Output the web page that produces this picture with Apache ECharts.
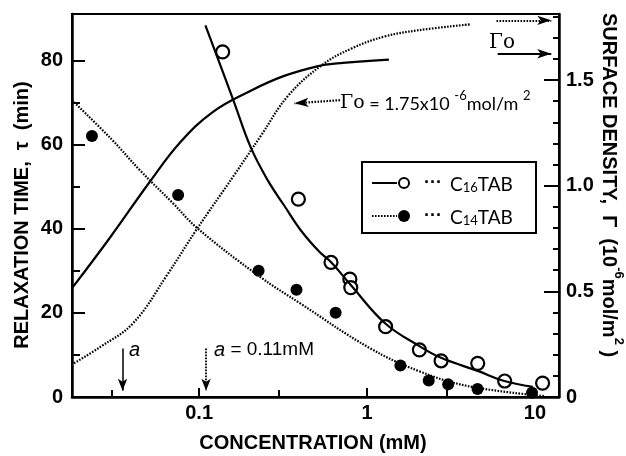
<!DOCTYPE html>
<html>
<head>
<meta charset="utf-8">
<style>
  html, body { margin: 0; padding: 0; background: #fff; }
  #chart-container { width: 626px; height: 456px; }
</style>
<script src="https://cdn.jsdelivr.net/npm/echarts/dist/echarts.min.js"></script>
</head>
<body>
<div id="chart-container"></div>
<script>
// measured relaxation times (open / filled circles)
var c16Conc = [0.138, 0.39, 0.61, 0.79, 0.80, 1.29, 2.05, 2.76, 4.56, 6.6, 11.1];
var c16Tau = [82, 47, 32, 28, 26, 16.7, 11.2, 8.6, 8, 3.8, 3.3];
var c14Conc = [0.023, 0.075, 0.226, 0.38, 0.65, 1.58, 2.33, 3.04, 4.55, 9.6];
var c14Tau = [62, 48, 30, 25.5, 20, 7.5, 3.9, 3.0, 1.9, 1.0];

// fitted relaxation time curves
var c16FitConc = [0.109, 0.16, 0.203, 0.257, 0.321, 0.405, 0.52, 0.615, 0.8, 1.29, 2.05, 2.76, 4.56, 6.57, 9.7];
var c16FitTau = [88.3, 70.5, 59.3, 51.4, 45.5, 39.5, 34.5, 31.9, 26.6, 17.4, 12.1, 9.3, 6.2, 3.8, 2.4];
var c14FitConc = [0.0175, 0.03, 0.0446, 0.07, 0.097, 0.226, 0.405, 1.03, 2.02, 4.0, 11.5];
var c14FitTau = [70.5, 61.3, 53.8, 46.0, 40.2, 28.8, 22.1, 11.7, 6.2, 2.6, 0.2];

// surface density curves (right axis)
var c16GammaConc = [0.0177, 0.0295, 0.051, 0.077, 0.121, 0.203, 0.321, 0.521, 0.64, 1.35];
var c16Gamma = [0.52, 0.755, 1.02, 1.205, 1.35, 1.45, 1.52, 1.568, 1.578, 1.597];
var c14GammaConc = [0.018, 0.0258, 0.0405, 0.0645, 0.097, 0.16, 0.233, 0.339, 0.536, 0.81, 1.28, 2.02, 4.1];
var c14Gamma = [0.16, 0.237, 0.35, 0.578, 0.795, 1.045, 1.236, 1.426, 1.57, 1.65, 1.707, 1.736, 1.764];

// annotations
var aC16 = 0.035;
var aC14 = 0.11;
var gamma0C16 = 1.625;
var gamma0C14 = 1.783;

// tick positions
var concMinorTicks = [0.03, 0.3, 3];
var tauMinorTicks = [10, 30, 50, 70];
var gammaMinorTicks = [0.1, 0.2, 0.3, 0.4, 0.6, 0.7, 0.8, 0.9, 1.1, 1.2, 1.3, 1.4, 1.6, 1.7, 1.8];

var xMin = 0.0175, xMax = 13.9;
var tauMax = 91, gammaMax = 1.813;

function zip(xs, ys) {
  return xs.map(function (x, i) { return [x, ys[i]]; });
}

var dom = document.getElementById('chart-container');
var myChart = echarts.init(dom, null, { renderer: 'canvas' });

var font = "'Liberation Sans', Arial, sans-serif";
var tickFont = { color: '#000', fontFamily: font, fontWeight: 'bold', fontSize: 20 };
var dotted = [1.6, 1.4];

var option = {
  animation: false,
  grid: {
    left: 72, right: 67, top: 14, bottom: 59,
    show: true, borderColor: '#000', borderWidth: 2, backgroundColor: 'transparent'
  },
  xAxis: [
    {
      type: 'log', logBase: 10, min: xMin, max: xMax, position: 'bottom',
      axisLine: { onZero: false, lineStyle: { color: '#000', width: 2.5 } },
      axisTick: { inside: true, length: 9, lineStyle: { color: '#000', width: 2 } },
      axisLabel: Object.assign({
        margin: 6, showMinLabel: false, showMaxLabel: false,
        formatter: function (v) { return String(parseFloat(v.toPrecision(6))); }
      }, tickFont),
      splitLine: { show: false }
    },
    {
      type: 'log', logBase: 10, min: xMin, max: xMax, position: 'bottom',
      axisLine: { show: false, onZero: false },
      axisTick: { inside: true, length: 7, customValues: concMinorTicks, lineStyle: { color: '#000', width: 2 } },
      axisLabel: { show: false },
      splitLine: { show: false }
    }
  ],
  yAxis: [
    {
      type: 'value', position: 'left', min: 0, max: tauMax, interval: 20,
      axisLine: { show: true, onZero: false, lineStyle: { color: '#000', width: 2.5 } },
      axisTick: { show: true, inside: true, length: 13, lineStyle: { color: '#000', width: 2 } },
      axisLabel: Object.assign({ margin: 9, showMaxLabel: false }, tickFont),
      splitLine: { show: false }
    },
    {
      type: 'value', position: 'left', min: 0, max: tauMax,
      axisLine: { show: false, onZero: false },
      axisTick: { show: true, inside: true, length: 8, customValues: tauMinorTicks, lineStyle: { color: '#000', width: 2 } },
      axisLabel: { show: false },
      splitLine: { show: false }
    },
    {
      type: 'value', position: 'right', min: 0, max: gammaMax, interval: 0.5,
      axisLine: { show: true, onZero: false, lineStyle: { color: '#000', width: 2.5 } },
      axisTick: { show: true, inside: true, length: 15, lineStyle: { color: '#000', width: 2 } },
      axisLabel: Object.assign({
        margin: 7, showMaxLabel: false,
        formatter: function (v) { return v === 0 ? '0' : v.toFixed(1); }
      }, tickFont),
      splitLine: { show: false }
    },
    {
      type: 'value', position: 'right', min: 0, max: gammaMax,
      axisLine: { show: false, onZero: false },
      axisTick: { show: true, inside: true, length: 6, customValues: gammaMinorTicks, lineStyle: { color: '#000', width: 2 } },
      axisLabel: { show: false },
      splitLine: { show: false }
    }
  ],
  series: [
    {
      name: 'C16TAB fit', type: 'line', xAxisIndex: 0, yAxisIndex: 0,
      data: zip(c16FitConc, c16FitTau), smooth: 0.4, symbol: 'none',
      lineStyle: { color: '#000', width: 2.2 },
      markLine: {
        silent: true, symbol: ['none', 'arrow'], symbolSize: [7, 12],
        label: { show: false },
        lineStyle: { color: '#000', width: 1.5, type: 'solid' },
        data: [[{ coord: [aC16, 11.5] }, { coord: [aC16, 1.5] }]]
      }
    },
    {
      name: 'C14TAB fit', type: 'line', xAxisIndex: 0, yAxisIndex: 0,
      data: zip(c14FitConc, c14FitTau), smooth: 0.4, symbol: 'none',
      lineStyle: { color: '#000', width: 2.2, type: dotted },
      markLine: {
        silent: true, symbol: ['none', 'arrow'], symbolSize: [7, 12],
        label: { show: false },
        lineStyle: { color: '#000', width: 1.8, type: dotted },
        data: [[{ coord: [aC14, 11.5] }, { coord: [aC14, 1.5] }]]
      }
    },
    {
      name: 'C16TAB Γ', type: 'line', xAxisIndex: 0, yAxisIndex: 2,
      data: zip(c16GammaConc, c16Gamma), smooth: 0.4, symbol: 'none',
      lineStyle: { color: '#000', width: 2.2 },
      markLine: {
        silent: true, symbol: ['none', 'arrow'], symbolSize: [7, 14],
        label: { show: false },
        lineStyle: { color: '#000', width: 2.2, type: 'solid' },
        data: [[{ coord: [6.0, gamma0C16] }, { coord: [12.5, gamma0C16] }]]
      }
    },
    {
      name: 'C14TAB Γ', type: 'line', xAxisIndex: 0, yAxisIndex: 2,
      data: zip(c14GammaConc, c14Gamma), smooth: 0.4, symbol: 'none',
      lineStyle: { color: '#000', width: 2.2, type: dotted },
      markLine: {
        silent: true, symbol: ['none', 'arrow'], symbolSize: [7, 14],
        label: { show: false },
        lineStyle: { color: '#000', width: 2.2, type: dotted },
        data: [
          [{ coord: [5.9, gamma0C14] }, { coord: [12.5, gamma0C14] }],
          [{ coord: [0.69, 1.405] }, { coord: [0.37, 1.39] }]
        ]
      }
    },
    {
      name: 'C16TAB', type: 'scatter', xAxisIndex: 0, yAxisIndex: 0,
      data: zip(c16Conc, c16Tau), symbol: 'circle', symbolSize: 13,
      itemStyle: { color: '#fff', borderColor: '#000', borderWidth: 2.2, opacity: 1 }
    },
    {
      name: 'C14TAB', type: 'scatter', xAxisIndex: 0, yAxisIndex: 0,
      data: zip(c14Conc, c14Tau), symbol: 'circle', symbolSize: 12,
      itemStyle: { color: '#000', opacity: 1 }
    }
  ],
  graphic: [
    // axis titles
    {
      type: 'text', x: 22, y: 215, rotation: Math.PI / 2,
      style: {
        text: 'RELAXATION TIME,  τ  (min)', align: 'center', verticalAlign: 'middle',
        font: 'bold 20px ' + font, fill: '#000'
      }
    },
    {
      type: 'text', x: 313, y: 443,
      style: {
        text: 'CONCENTRATION (mM)', align: 'center', verticalAlign: 'middle',
        font: 'bold 20px ' + font, fill: '#000'
      }
    },
    {
      type: 'text', x: 612, y: 185, rotation: -Math.PI / 2,
      style: {
        text: '{t|SURFACE DENSITY,  Γ  (10}{s|-6}{t|mol/m}{s|2}{t| )}',
        align: 'center', verticalAlign: 'middle', fill: '#000',
        rich: {
          t: { fontFamily: font, fontWeight: 'bold', fontSize: 20, lineHeight: 26, verticalAlign: 'bottom' },
          s: { fontFamily: font, fontWeight: 'bold', fontSize: 13, lineHeight: 26, verticalAlign: 'top' }
        }
      }
    },
    // annotations
    {
      type: 'text', x: 489, y: 43,
      style: { text: 'Γo', align: 'left', verticalAlign: 'middle', font: '20px "DejaVu Serif", serif', fill: '#000' }
    },
    {
      type: 'text', x: 340, y: 101,
      style: {
        text: '{g|Γo}{t| = 1.75x10 }{s|-6}{t|mol/m }{s|2}',
        align: 'left', verticalAlign: 'middle', fill: '#000',
        rich: {
          g: { fontFamily: '"DejaVu Serif", serif', fontSize: 19, lineHeight: 24, verticalAlign: 'bottom' },
          t: { fontFamily: 'Lato, "Open Sans", sans-serif', fontSize: 18, lineHeight: 24, verticalAlign: 'bottom' },
          s: { fontFamily: 'Lato, "Open Sans", sans-serif', fontSize: 13, lineHeight: 24, verticalAlign: 'top' }
        }
      }
    },
    {
      type: 'text', x: 129, y: 350,
      style: { text: 'a', align: 'left', verticalAlign: 'middle', font: 'italic 20px ' + font, fill: '#000' }
    },
    {
      type: 'text', x: 214, y: 350,
      style: {
        text: '{i|a}{t| = 0.11mM}', align: 'left', verticalAlign: 'middle', fill: '#000',
        rich: {
          i: { fontFamily: font, fontStyle: 'italic', fontSize: 20 },
          t: { fontFamily: font, fontSize: 19 }
        }
      }
    },
    // legend box
    {
      type: 'group', x: 362, y: 162,
      children: [
        { type: 'rect', shape: { x: 0, y: 0, width: 174, height: 71 }, style: { fill: '#fff', stroke: '#000', lineWidth: 2 } },
        { type: 'line', shape: { x1: 10, y1: 21, x2: 35, y2: 21 }, style: { stroke: '#000', lineWidth: 2 } },
        { type: 'circle', shape: { cx: 42, cy: 21, r: 5 }, style: { fill: '#fff', stroke: '#000', lineWidth: 2 } },
        { type: 'text', x: 62, y: 21, style: { text: '···', align: 'left', verticalAlign: 'middle', font: 'bold 18px ' + font, fill: '#000' } },
        {
          type: 'text', x: 88, y: 21,
          style: {
            text: '{b|C}{s|16}{b|TAB}', align: 'left', verticalAlign: 'middle', fill: '#000',
            rich: {
              b: { fontFamily: 'Lato, sans-serif', fontSize: 19, lineHeight: 22, verticalAlign: 'bottom' },
              s: { fontFamily: 'Lato, sans-serif', fontSize: 13, lineHeight: 22, verticalAlign: 'bottom' }
            }
          }
        },
        { type: 'line', shape: { x1: 10, y1: 54, x2: 35, y2: 54 }, style: { stroke: '#000', lineWidth: 2, lineDash: dotted } },
        { type: 'circle', shape: { cx: 42, cy: 54, r: 6 }, style: { fill: '#000' } },
        { type: 'text', x: 62, y: 54, style: { text: '···', align: 'left', verticalAlign: 'middle', font: 'bold 18px ' + font, fill: '#000' } },
        {
          type: 'text', x: 88, y: 54,
          style: {
            text: '{b|C}{s|14}{b|TAB}', align: 'left', verticalAlign: 'middle', fill: '#000',
            rich: {
              b: { fontFamily: 'Lato, sans-serif', fontSize: 19, lineHeight: 22, verticalAlign: 'bottom' },
              s: { fontFamily: 'Lato, sans-serif', fontSize: 13, lineHeight: 22, verticalAlign: 'bottom' }
            }
          }
        }
      ]
    }
  ]
};

myChart.setOption(option);
window.addEventListener('resize', myChart.resize);
</script>
</body>
</html>
